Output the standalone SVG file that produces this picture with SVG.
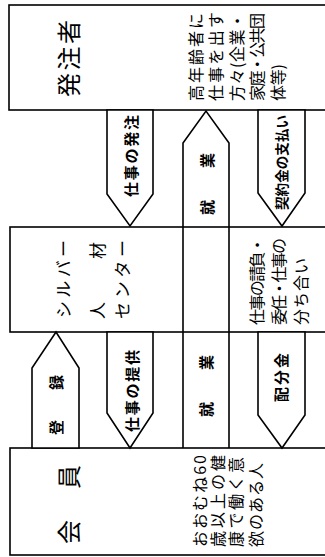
<svg xmlns="http://www.w3.org/2000/svg" width="325" height="557" viewBox="0 0 325 557">
<style>
.box{fill:#fff;stroke:#000;stroke-width:1.6}
.arr{fill:#fff;stroke:#000;stroke-width:1.6;stroke-linejoin:miter}
.ln{fill:none;stroke:#000;stroke-width:1.6;stroke-linejoin:miter}
text{font-family:"Noto Sans CJK JP","Noto Sans CJK SC",sans-serif;fill:#000;dominant-baseline:central}
.big{font-size:24px}
.mid{font-size:17px}
.body{font-size:16px}
.lab{font-size:15px;font-weight:bold}
.labs{font-size:13.5px;font-weight:bold}
</style>
<rect x="0" y="0" width="325" height="557" fill="#fff"/>
<g id="node-hatchusha">
  <rect class="box" x="9" y="5" width="340" height="105"/>
  <text class="big" transform="translate(67,97) rotate(-90)" textLength="77" lengthAdjust="spacing">発注者</text>
  <text class="body" transform="translate(195,101) rotate(-90)" textLength="88" lengthAdjust="spacing">高年齢者に</text>
  <text class="body" transform="translate(215,101) rotate(-90)" textLength="89" lengthAdjust="spacing">仕事を出す</text>
  <text class="body" transform="translate(236,101) rotate(-90)" textLength="88" lengthAdjust="spacing">方々(企業・</text>
  <text class="body" transform="translate(256,101) rotate(-90)" textLength="88" lengthAdjust="spacing">家庭・公共団</text>
  <text class="body" transform="translate(277,101) rotate(-90)" textLength="37" lengthAdjust="spacing">体等)</text>
</g>
<g id="node-center">
  <rect class="box" x="10" y="227" width="340" height="105"/>
  <text class="mid" transform="translate(62,318) rotate(-90)" textLength="78" lengthAdjust="spacing">シルバー</text>
  <text class="mid" transform="translate(96,319) rotate(-90)" textLength="77" lengthAdjust="spacing">人材</text>
  <text class="mid" transform="translate(121,319) rotate(-90)" textLength="79" lengthAdjust="spacing">センター</text>
  <text class="body" transform="translate(256,325) rotate(-90)" textLength="88" lengthAdjust="spacing">仕事の請負・</text>
  <text class="body" transform="translate(278,325) rotate(-90)" textLength="87" lengthAdjust="spacing">委任・仕事の</text>
  <text class="body" transform="translate(300,325) rotate(-90)" textLength="67" lengthAdjust="spacing">分ち合い</text>
</g>
<g id="node-kaiin">
  <rect class="box" x="10" y="448" width="340" height="107"/>
  <text class="big" transform="translate(67,544) rotate(-90)" textLength="79" lengthAdjust="spacing">会員</text>
  <text class="body" transform="translate(199,547) rotate(-90)" textLength="92" lengthAdjust="spacing">おおむね60</text>
  <text class="body" transform="translate(217,547) rotate(-90)" textLength="92" lengthAdjust="spacing">歳以上の健</text>
  <text class="body" transform="translate(235,547) rotate(-90)" textLength="90" lengthAdjust="spacing">康で働く意</text>
  <text class="body" transform="translate(255,547) rotate(-90)" textLength="84" lengthAdjust="spacing">欲のある人</text>
</g>
<g id="connectors">
  <polygon class="arr" points="107,110 153,110 153,194 130,226 107,194"/>
  <polygon class="arr" points="258,110 305,110 305,193 282,226 258,193"/>
  <polygon class="arr" points="32,448 32,368 56,332 79,368 79,448"/>
  <polygon class="arr" points="107,332 153,332 153,413 130,448 107,413"/>
  <polygon class="arr" points="258,332 305,332 305,415 282,448 258,415"/>
  <polyline class="ln" points="183,448 183,143 206,111 229,143 229,448"/>
  <text class="lab" transform="translate(130,197) rotate(-90)" textLength="82" lengthAdjust="spacing">仕事の発注</text>
  <text class="labs" transform="translate(281,210) rotate(-90)" textLength="95" lengthAdjust="spacing">契約金の支払い</text>
  <text class="lab" transform="translate(206,215) rotate(-90)" textLength="62" lengthAdjust="spacing">就業</text>
  <text class="lab" transform="translate(55,435) rotate(-90)" textLength="60" lengthAdjust="spacing">登録</text>
  <text class="lab" transform="translate(131,432) rotate(-90)" textLength="82" lengthAdjust="spacing">仕事の提供</text>
  <text class="lab" transform="translate(205,417) rotate(-90)" textLength="62" lengthAdjust="spacing">就業</text>
  <text class="lab" transform="translate(280,402) rotate(-90)" textLength="49" lengthAdjust="spacing">配分金</text>
</g>
</svg>
